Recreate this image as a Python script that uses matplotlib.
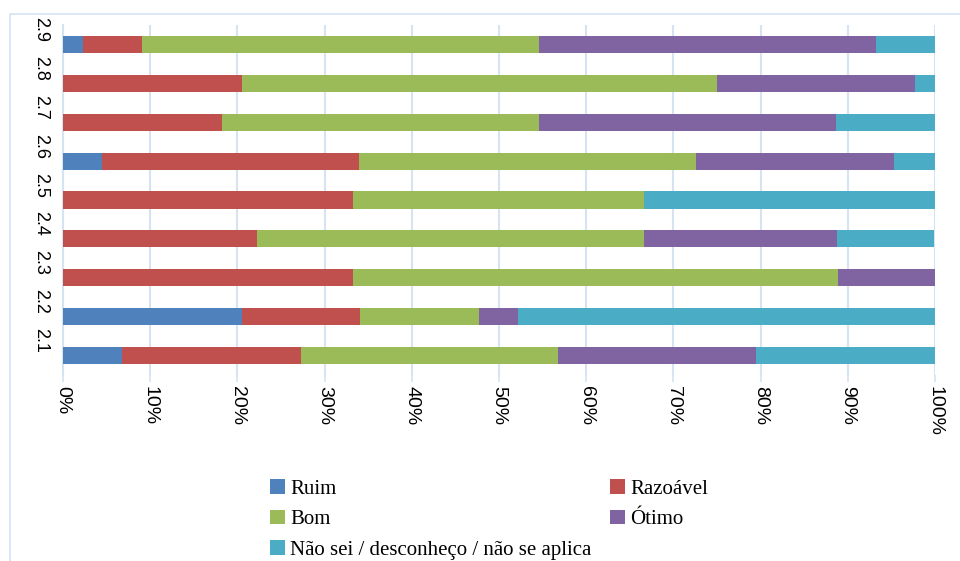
import matplotlib.pyplot as plt
from matplotlib.patches import Rectangle
from matplotlib.transforms import ScaledTranslation
import numpy as np

categories = ["2.1", "2.2", "2.3", "2.4", "2.5", "2.6", "2.7", "2.8", "2.9"]
series_names = ["Ruim", "Razoável", "Bom", "Ótimo", "Não sei / desconheço / não se aplica"]
colors = ["#4f81bd", "#c0504d", "#9bbb59", "#8064a2", "#4bacc6"]

# shares per category (bottom to top), percent
ruim = [6.8, 20.5, 0.0, 0.0, 0.0, 4.5, 0.0, 0.0, 2.3]
razoavel = [20.5, 13.6, 33.3, 22.2, 33.3, 29.5, 18.2, 20.5, 6.8]
bom = [29.5, 13.6, 55.6, 44.4, 33.3, 38.6, 36.4, 54.5, 45.5]
otimo = [22.7, 4.5, 11.1, 22.2, 0.0, 22.7, 34.1, 22.7, 38.6]
nao_sei = [20.5, 47.8, 0.0, 11.1, 33.4, 4.7, 11.3, 2.3, 6.8]

series = [ruim, razoavel, bom, otimo, nao_sei]
xticks = [0, 10, 20, 30, 40, 50, 60, 70, 80, 90, 100]

fig = plt.figure(figsize=(9.6, 5.61), dpi=100)
fig.patches.append(Rectangle((10 / 960, -0.1), 1.2, 1 - 14 / 561 + 0.1,
                             transform=fig.transFigure, fill=False,
                             edgecolor="#d6e3f3", linewidth=1.2))

ax = fig.add_axes([63 / 960, 1 - 375 / 561, (935 - 63) / 960, 350 / 561])
y = np.arange(len(categories))
left = np.zeros(len(categories))
bars = []
for name, vals, c in zip(series_names, series, colors):
    b = ax.barh(y, vals, left=left, height=0.44, color=c, label=name, zorder=3)
    bars.append(b)
    left += np.array(vals)

ax.set_xlim(0, 100)
ax.set_ylim(-0.5, len(categories) - 0.5)
ax.set_xticks(xticks)
ax.set_xticklabels([f"{t}%" for t in xticks], rotation=270, fontsize=14,
                   family="Liberation Sans")
ax.set_yticks(y)
ax.set_yticklabels(categories, rotation=270, fontsize=13, family="Liberation Sans",
                   va="center")
ax.tick_params(axis="x", length=5, color="#d6e3f3", width=1.2, pad=3)
ax.tick_params(axis="y", length=0, pad=10)
for lab in ax.get_yticklabels():
    lab.set_transform(lab.get_transform() + ScaledTranslation(0, 0.15, fig.dpi_scale_trans))

ax.grid(axis="x", color="#d6e3f3", linewidth=1.5, zorder=0)
for s in ["top", "right", "bottom"]:
    ax.spines[s].set_visible(False)
ax.spines["left"].set_color("#d6e3f3")
ax.spines["left"].set_linewidth(1.5)

order = [0, 2, 4, 1, 3]
fig.legend([bars[i] for i in order], [series_names[i] for i in order],
           ncol=2, loc="upper left", bbox_to_anchor=(260 / 960, 1 - 469 / 561),
           frameon=False, prop={"family": "Liberation Serif", "size": 15},
           handlelength=0.7, handleheight=0.7, handletextpad=0.25,
           labelspacing=0.52, columnspacing=0.9, borderpad=0)

fig.savefig("out.png", dpi=100)
